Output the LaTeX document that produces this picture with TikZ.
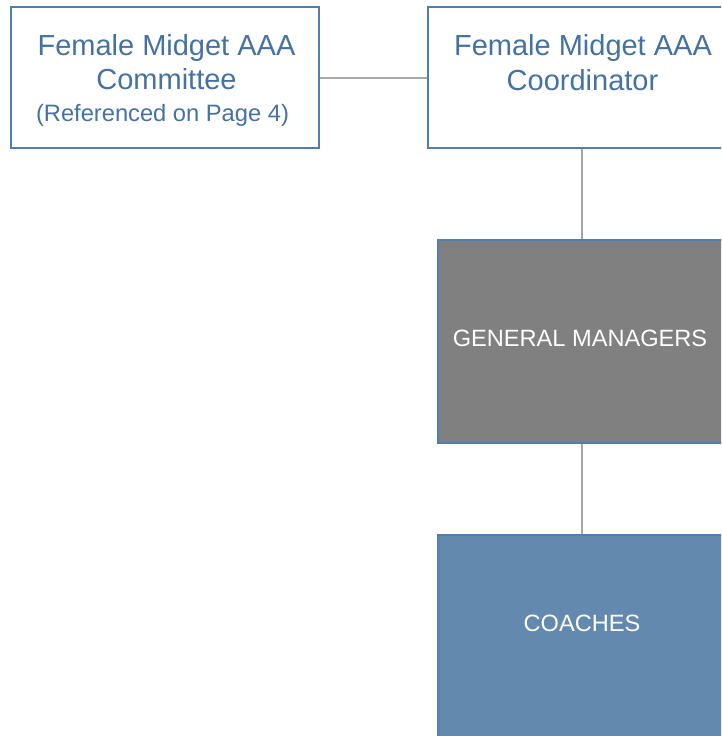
\documentclass[tikz,border=0pt]{standalone}
\usepackage{fontspec}
\setmainfont{Liberation Sans}
\definecolor{bordblue}{RGB}{79,126,176}
\definecolor{txtblue}{RGB}{68,114,162}
\definecolor{coachfill}{RGB}{99,137,174}
\definecolor{gmfill}{RGB}{128,128,128}
\definecolor{linegray}{RGB}{166,166,166}
\tikzset{
  box/.style={draw=bordblue, line width=1.3pt, inner sep=0pt},
  conn/.style={draw=linegray, line width=2pt},
  bigtxt/.style={font=\fontsize{29}{34}\selectfont, text=txtblue, anchor=base, inner sep=0pt},
  smalltxt/.style={font=\fontsize{23.7}{28}\selectfont, text=txtblue, anchor=base, inner sep=0pt},
  whitetxt/.style={font=\fontsize{23.6}{28}\selectfont, text=white, anchor=base, inner sep=0pt},
}
\begin{document}
\begin{tikzpicture}[x=1pt,y=-1pt]
\useasboundingbox (0,0) rectangle (721,736);
\clip (0,0) rectangle (721,736);
\fill[white] (0,0) rectangle (721,736);
% boxes
\node[box, fill=white, minimum width=308pt, minimum height=141pt] (comm) at (165,77.5) {};
\node[box, fill=white, minimum width=310pt, minimum height=141pt] (coord) at (583,77.5) {};
\node[box, fill=gmfill, minimum width=290pt, minimum height=203pt] (gm) at (583,341.5) {};
\node[box, fill=coachfill, minimum width=290pt, minimum height=203pt] (coach) at (583,636.5) {};
% connectors
\draw[conn] (comm.east) -- (coord.west);
\draw[conn] (582,148.7) coordinate (c1) -- (582,239.3) coordinate (g1);
\draw[conn] (582,443.7) coordinate (g2) -- (582,534.3) coordinate (k1);
% texts
\node[bigtxt] (t1) at (166.5,55) {Female Midget AAA};
\node[bigtxt] (t2) at (166.5,89) {Committee};
\node[smalltxt] (t3) at (162.5,121) {(Referenced on Page 4)};
\node[bigtxt] (t4) at (583,55) {Female Midget AAA};
\node[bigtxt] (t5) at (582.5,90) {Coordinator};
\node[whitetxt] (t6) at (580,346) {GENERAL MANAGERS};
\node[whitetxt] (t7) at (582,631) {COACHES};
\end{tikzpicture}
\end{document}
